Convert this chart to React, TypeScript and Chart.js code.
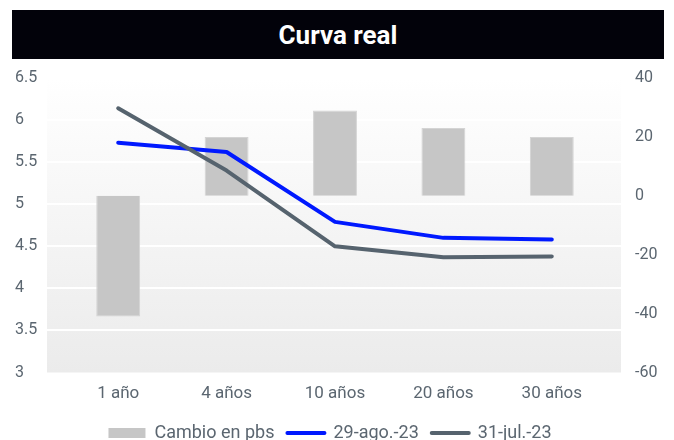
import React, { useEffect, useRef } from "react";
import { Chart, registerables } from "chart.js";

Chart.register(...registerables);

const chartTitle = "Curva real";
const categories = ["1 año", "4 años", "10 años", "20 años", "30 años"];
const cambioPbs = [-41, 20, 29, 23, 20];
const curva29Ago = [5.73, 5.62, 4.79, 4.6, 4.58];
const curva31Jul = [6.14, 5.4, 4.5, 4.37, 4.38];
const seriesLabels = ["Cambio en pbs", "29-ago.-23", "31-jul.-23"];

const TEXT = "#5b6670";
const FONT = "Roboto, 'Noto Sans', sans-serif";

const bgPlugin = {
  id: "bgPlugin",
  afterLayout(chart: any) {
    if (chart.legend) {
      chart.legend.left -= 14.5;
      chart.legend.right -= 14.5;
    }
  },
  beforeDatasetsDraw(chart: any) {
    const { ctx, chartArea } = chart;
    const left = chartArea.left - 17;
    const right = chartArea.right + 15;
    const g = ctx.createLinearGradient(0, chartArea.top, 0, chartArea.bottom);
    g.addColorStop(0, "#ffffff");
    g.addColorStop(1, "#ebebeb");
    ctx.save();
    ctx.fillStyle = g;
    ctx.fillRect(left, chartArea.top, right - left, chartArea.bottom - chartArea.top);
    const y = chart.scales.y;
    ctx.strokeStyle = "#ffffff";
    ctx.lineWidth = 2;
    y.ticks.forEach((t: any, i: number) => {
      if (i === 0 || i === y.ticks.length - 1) return;
      const py = Math.round(y.getPixelForValue(t.value));
      ctx.beginPath();
      ctx.moveTo(left, py);
      ctx.lineTo(right, py);
      ctx.stroke();
    });
    ctx.restore();
  },
};

export default function App() {
  const ref = useRef<HTMLCanvasElement | null>(null);

  useEffect(() => {
    if (!ref.current) return;
    const chart = new Chart(ref.current, {
      data: {
        labels: categories,
        datasets: [
          {
            type: "bar",
            label: seriesLabels[0],
            data: cambioPbs,
            yAxisID: "y1",
            backgroundColor: "#c6c6c6",
            borderColor: "#d4d4d4",
            borderWidth: 1,
            barPercentage: 0.405,
            categoryPercentage: 1,
            order: 3,
          } as any,
          {
            type: "line",
            label: seriesLabels[1],
            data: curva29Ago,
            yAxisID: "y",
            borderColor: "#0019ff",
            backgroundColor: "#0019ff",
            borderWidth: 4,
            pointRadius: 0,
            tension: 0,
            borderCapStyle: "round",
            borderJoinStyle: "round",
            order: 2,
          } as any,
          {
            type: "line",
            label: seriesLabels[2],
            data: curva31Jul,
            yAxisID: "y",
            borderColor: "#56636e",
            backgroundColor: "#56636e",
            borderWidth: 4,
            pointRadius: 0,
            tension: 0,
            borderCapStyle: "round",
            borderJoinStyle: "round",
            order: 1,
          } as any,
        ],
      },
      options: {
        responsive: false,
        animation: false,
        layout: { padding: { left: 15, right: 0, top: 18, bottom: 0 } },
        plugins: {
          title: { display: false },
          tooltip: { enabled: false },
          legend: {
            position: "bottom",
            labels: {
              usePointStyle: true,
              pointStyleWidth: 37,
              boxHeight: 10,
              padding: 13,
              color: TEXT,
              font: { family: FONT, size: 18 },
              generateLabels: (c: any) =>
                c.data.datasets.map((ds: any, i: number) => ({
                  text: ds.label,
                  datasetIndex: i,
                  fillStyle: ds.type === "bar" ? "#c6c6c6" : ds.borderColor,
                  strokeStyle: ds.type === "bar" ? "#c6c6c6" : ds.borderColor,
                  lineWidth: ds.type === "bar" ? 0 : 4,
                  lineCap: "round",
                  pointStyle: ds.type === "bar" ? "rect" : "line",
                  fontColor: TEXT,
                  hidden: false,
                })),
            },
          },
        },
        scales: {
          x: {
            offset: true,
            grid: { display: false, drawTicks: false },
            border: { display: false },
            ticks: { color: TEXT, font: { family: FONT, size: 17 }, padding: 11 },
            afterFit: (s: any) => {
              s.height = 38.5;
            },
          },
          y: {
            position: "left",
            min: 3,
            max: 6.5,
            grid: { display: false, drawTicks: false },
            border: { display: false },
            ticks: {
              stepSize: 0.5,
              color: TEXT,
              font: { family: FONT, size: 16 },
              crossAlign: "far",
              padding: 0,
              callback: (v: any) => String(v),
            },
            afterFit: (s: any) => {
              s.width = 49;
            },
          },
          y1: {
            position: "right",
            min: -60,
            max: 40,
            grid: { display: false, drawTicks: true, tickLength: 29 },
            border: { display: false },
            ticks: {
              stepSize: 20,
              color: TEXT,
              font: { family: FONT, size: 16 },
              padding: 0,
            },
            afterFit: (s: any) => {
              s.width = 68;
            },
          },
        },
      } as any,
      plugins: [bgPlugin],
    });
    return () => chart.destroy();
  }, []);

  return (
    <div
      style={{
        position: "fixed",
        left: 0,
        top: 0,
        width: 674,
        height: 440,
        overflow: "hidden",
        background: "#ffffff",
      }}
    >
      <div
        style={{
          position: "absolute",
          left: 12,
          top: 10,
          width: 652,
          height: 49,
          background: "#02020a",
          color: "#ffffff",
          fontFamily: FONT,
          fontWeight: 700,
          fontSize: 26,
          display: "flex",
          alignItems: "center",
          justifyContent: "center",
        }}
      >
        {chartTitle}
      </div>
      <canvas
        ref={ref}
        width={674}
        height={392}
        style={{ position: "absolute", left: 0, top: 60, width: 674, height: 392 }}
      />
    </div>
  );
}
